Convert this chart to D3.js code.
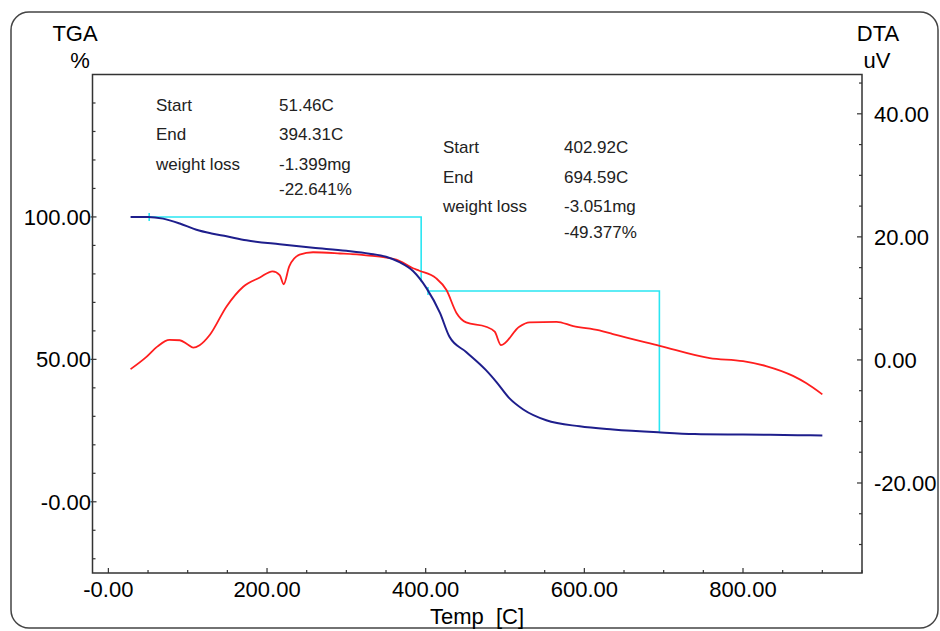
<!DOCTYPE html>
<html>
<head>
<meta charset="utf-8">
<script src="https://cdn.jsdelivr.net/npm/d3@7/dist/d3.min.js"></script>
<style>
  html, body { margin: 0; padding: 0; background: #fff; }
  svg { display: block; font-family: "Liberation Sans", Arial, sans-serif; }
</style>
</head>
<body>
<svg id="chart" width="940" height="631"></svg>
<script>
// Temperature (°C) and TGA weight (%)
const tgaTemp = [28, 50, 69, 90, 111, 130, 149, 174, 216, 258, 300, 329, 350, 367, 384, 401, 418, 430, 451, 476, 489, 506, 523, 552, 594, 636, 693, 739, 800, 869, 900];
const tgaPct  = [100, 100, 99.4, 97.7, 95.5, 94.2, 93.2, 91.8, 90.4, 89.2, 88.1, 87.1, 86.0, 84.1, 81.0, 75.0, 66.3, 57.9, 52.6, 46.2, 42.1, 36.2, 32.4, 28.6, 26.5, 25.4, 24.4, 23.8, 23.6, 23.4, 23.3];

// Temperature (°C) and DTA signal (uV)
const dtaTemp = [28, 48, 62, 77, 90, 100, 107, 115, 128, 149, 170, 191, 207, 216, 221, 228, 241, 258, 292, 325, 363, 384, 392, 413, 426, 439, 451, 476, 487, 495, 518, 531, 565, 586, 619, 636, 695, 758, 800, 829, 863, 880, 900];
const dtaUv   = [-1.5, 0.5, 2.2, 3.25, 3.2, 2.5, 2.0, 2.4, 4.1, 8.7, 11.9, 13.4, 14.4, 13.8, 12.3, 15.2, 17.1, 17.5, 17.3, 17.0, 16.3, 14.9, 14.5, 13.3, 11.4, 7.6, 6.1, 5.4, 4.6, 2.4, 5.4, 6.1, 6.2, 5.5, 4.8, 4.2, 2.3, 0.3, -0.2, -1.0, -2.6, -3.8, -5.6];

// Weight-loss steps: start/end temperature, level at start, loss (%)
const stepStart = [51.46, 402.92];
const stepEnd   = [394.31, 694.59];
const stepLevel = [100, 74.0];
const stepLossPct = [22.641, 49.377];
const stepLossMg  = [1.399, 3.051];

// Axis ticks
const xTicks = [0, 200, 400, 600, 800];
const xTickLabels = ["-0.00", "200.00", "400.00", "600.00", "800.00"];
const tgaTicks = [0, 50, 100];
const tgaTickLabels = ["-0.00", "50.00", "100.00"];
const dtaTicks = [-20, 0, 20, 40];
const dtaTickLabels = ["-20.00", "0.00", "20.00", "40.00"];

const svg = d3.select("#chart");
const plot = { left: 92.5, right: 862, top: 74.5, bottom: 573 };

const x = d3.scaleLinear().domain([-20, 950]).range([plot.left, plot.right]);
const yL = d3.scaleLinear().domain([-25, 150]).range([plot.bottom, plot.top]);
const yR = d3.scaleLinear().domain([-34.63, 46.39]).range([plot.bottom, plot.top]);

const axisColor = "#333";
const textColor = "#000";

// Outer rounded frame
svg.append("rect")
  .attr("x", 11).attr("y", 12).attr("width", 927).attr("height", 616)
  .attr("rx", 18).attr("ry", 18)
  .attr("fill", "none").attr("stroke", "#444").attr("stroke-width", 1.5);

// Plot frame
svg.append("rect")
  .attr("x", plot.left).attr("y", plot.top)
  .attr("width", plot.right - plot.left).attr("height", plot.bottom - plot.top)
  .attr("fill", "none").attr("stroke", axisColor).attr("stroke-width", 1.5);

const ticksG = svg.append("g").attr("stroke", axisColor).attr("stroke-width", 1.2);

// X ticks (inside)
d3.range(0, 951, 50).forEach(v => {
  const major = v % 200 === 0;
  ticksG.append("line")
    .attr("x1", x(v)).attr("x2", x(v))
    .attr("y1", plot.bottom).attr("y2", plot.bottom - (major ? 5 : 3));
});
// Left ticks
d3.range(-20, 150, 10).forEach(v => {
  const major = v % 50 === 0;
  ticksG.append("line")
    .attr("x1", plot.left - (major ? 2 : 0)).attr("x2", plot.left + (major ? 4 : 3))
    .attr("y1", yL(v)).attr("y2", yL(v));
});
// Right ticks
d3.range(-30, 46, 5).forEach(v => {
  const major = v % 20 === 0;
  ticksG.append("line")
    .attr("x1", plot.right).attr("x2", plot.right - (major ? 5 : 3))
    .attr("y1", yR(v)).attr("y2", yR(v));
});

// Tick labels
const labelFont = 22;
svg.append("g").selectAll("text").data(xTicks).join("text")
  .attr("x", d => x(d)).attr("y", 596.5)
  .attr("text-anchor", "middle").attr("font-size", labelFont).attr("fill", textColor)
  .text((d, i) => xTickLabels[i]);
svg.append("g").selectAll("text").data(tgaTicks).join("text")
  .attr("x", plot.left - 1.5).attr("y", d => yL(d) + 8)
  .attr("text-anchor", "end").attr("font-size", labelFont).attr("fill", textColor)
  .text((d, i) => tgaTickLabels[i]);
svg.append("g").selectAll("text").data(dtaTicks).join("text")
  .attr("x", plot.right + 12).attr("y", d => yR(d) + 8)
  .attr("text-anchor", "start").attr("font-size", labelFont).attr("fill", textColor)
  .text((d, i) => dtaTickLabels[i]);

// Axis titles
const titles = [
  { t: "TGA", x: 75, y: 41 }, { t: "%", x: 80, y: 68 },
  { t: "DTA", x: 878, y: 41 }, { t: "uV", x: 877, y: 68 },
  { t: "Temp  [C]", x: 477, y: 624 }
];
svg.append("g").selectAll("text").data(titles).join("text")
  .attr("x", d => d.x).attr("y", d => d.y)
  .attr("text-anchor", "middle").attr("font-size", 22).attr("fill", textColor)
  .style("white-space", "pre")
  .text(d => d.t);

// Weight-loss step markers (cyan)
const cyan = "#2ae6f2";
const stepG = svg.append("g").attr("fill", "none").attr("stroke", cyan).attr("stroke-width", 1.6);
stepStart.forEach((s, i) => {
  const lvl = stepLevel[i];
  const endLvl = lvl - stepLossPct[i];
  stepG.append("path").attr("d", d3.line()([
    [x(s), yL(lvl)], [x(stepEnd[i]), yL(lvl)], [x(stepEnd[i]), yL(endLvl)]
  ]));
  stepG.append("line")
    .attr("x1", x(s)).attr("x2", x(s))
    .attr("y1", yL(lvl) - 4).attr("y2", yL(lvl) + 4);
});

// Curves
const tgaLine = d3.line().x(d => x(d[0])).y(d => yL(d[1])).curve(d3.curveMonotoneX);
const dtaLine = d3.line().x(d => x(d[0])).y(d => yR(d[1])).curve(d3.curveMonotoneX);

svg.append("path")
  .datum(dtaTemp.map((t, i) => [t, dtaUv[i]]))
  .attr("d", dtaLine).attr("fill", "none").attr("stroke", "#ff1e1e").attr("stroke-width", 1.8);
svg.append("path")
  .datum(tgaTemp.map((t, i) => [t, tgaPct[i]]))
  .attr("d", tgaLine).attr("fill", "none").attr("stroke", "#1e1e8c").attr("stroke-width", 2);

// Step annotations
const fmtT = v => v.toFixed(2) + "C";
const blocks = [
  { x: 156, x2: 279, y: 110.5 },
  { x: 443, x2: 564, y: 153 }
];
const annoG = svg.append("g").attr("font-size", 17).attr("fill", "#222");
blocks.forEach((b, i) => {
  const rows = [
    ["Start", fmtT(stepStart[i])],
    ["End", fmtT(stepEnd[i])],
    ["weight loss", "-" + stepLossMg[i].toFixed(3) + "mg"],
    ["", "-" + stepLossPct[i].toFixed(3) + "%"]
  ];
  rows.forEach((r, j) => {
    const yy = b.y + j * 29.5 - (j === 3 ? 4 : 0);
    if (r[0]) annoG.append("text").attr("x", b.x).attr("y", yy).text(r[0]);
    annoG.append("text").attr("x", b.x2).attr("y", yy).text(r[1]);
  });
});
</script>
</body>
</html>
